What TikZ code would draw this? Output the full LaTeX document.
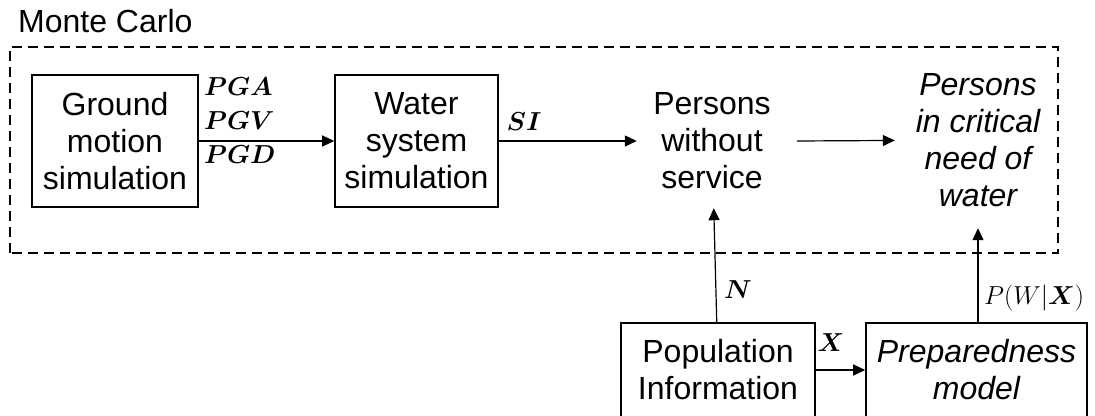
\RequirePackage{fix-cm}
\documentclass[tikz,border=0pt]{standalone}
\usepackage{fontspec}
\setmainfont{Liberation Sans}
\usepackage{bm}
\usetikzlibrary{arrows.meta}

\begin{document}
\begin{tikzpicture}[x=1pt, y=1pt,
    every node/.append style={font=\fontsize{32}{37}\selectfont},
    box/.style={draw, line width=1.6pt, align=center, inner sep=0pt},
    txt/.style={align=center, inner sep=0pt},
    arr/.style={-{Triangle[length=12pt, width=11pt]}, line width=1.2pt},
    lbl/.style={inner sep=0pt, font=\fontsize{26}{34}\selectfont}]
    \useasboundingbox (0,0) rectangle (1095,415);

    % Monte Carlo frame
    \draw[line width=1.6pt, dash pattern=on 10pt off 6pt] (10,162) rectangle (1058,368);
    \node[anchor=base west, inner sep=0pt] (mc) at (18,382) {Monte Carlo};

    \node[box, minimum width=166pt, minimum height=132pt] (ground) at (115,274) {Ground\\motion\\simulation};
    \node[box, minimum width=163pt, minimum height=132pt] (water) at (416.5,274) {Water\\system\\simulation};
    \node[txt, minimum width=150pt, minimum height=134pt] (nosvc) at (712,274) {Persons\\without\\service};
    \node[txt, minimum width=166pt, minimum height=176pt, font=\fontsize{32}{37}\selectfont\itshape] (critical) at (978,275) {Persons\\in critical\\need of\\water};

    \node[box, minimum width=194pt, minimum height=94pt] (pop) at (718,45) {Population\\Information};
    \node[box, minimum width=221pt, minimum height=94pt, font=\fontsize{32}{37}\selectfont\itshape] (prep) at (976.5,45) {Preparedness\\model};

    \draw[arr] (ground) -- (water);
    \node[lbl, anchor=west, align=left] (pg) at (204,294) {$\bm{PGA}$\\$\bm{PGV}$\\$\bm{PGD}$};
    \draw[arr] (water) -- (nosvc);
    \node[lbl] (si) at (524,293) {$\bm{SI}$};
    \draw[arr] ([xshift=10pt]nosvc.east) -- (critical);
    \draw[arr] (pop) -- (nosvc);
    \node[lbl] (n) at (738,125) {$\bm{N}$};
    \draw[arr] (pop) -- (prep);
    \node[lbl] (x) at (831,72) {$\bm{X}$};
    \draw[arr] (prep.north -| critical) -- (critical);
    \node[lbl, anchor=west] (pw) at (984,117) {$P(W|\bm{X})$};
\end{tikzpicture}
\end{document}
